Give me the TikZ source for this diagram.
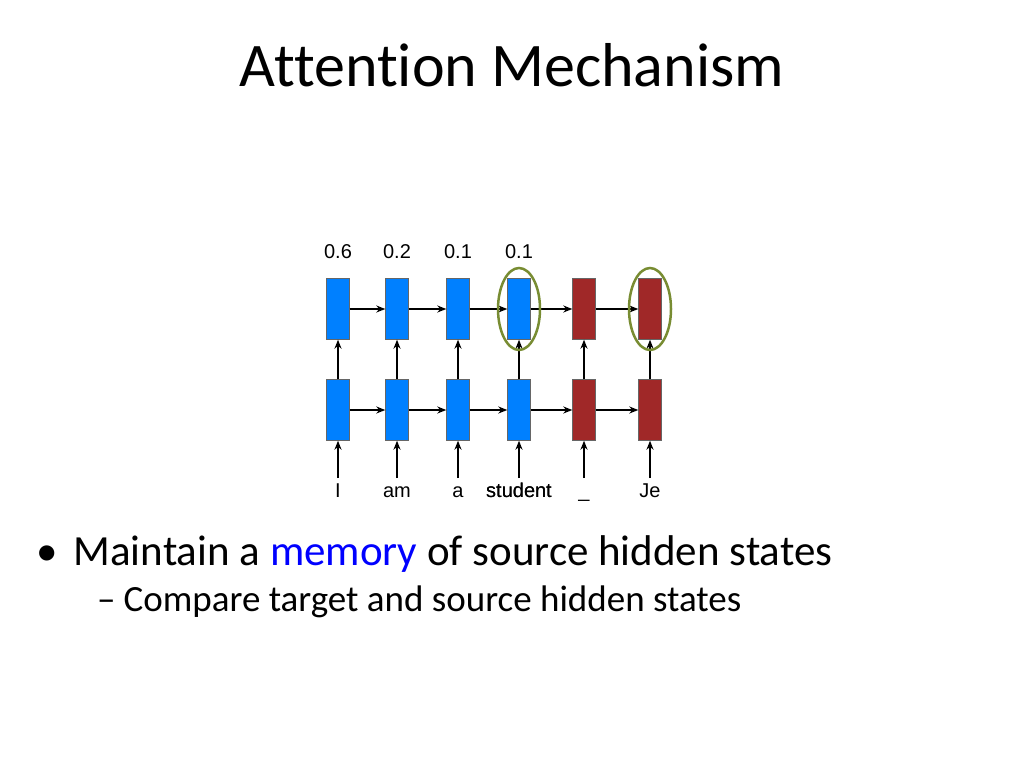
\documentclass[tikz,border=0pt]{standalone}
\usepackage{fontspec}
\setmainfont[Ligatures=NoCommon]{Carlito}
\newfontfamily\labelfont{Liberation Sans}
\usetikzlibrary{positioning,arrows.meta}

\tikzset{
  srcbox/.style={draw=black!60,fill={rgb,255:red,0;green,128;blue,255},minimum width=23pt,minimum height=61pt,inner sep=0pt},
  tgtbox/.style={srcbox,fill={rgb,255:red,160;green,40;blue,40}},
  link/.style={-{Stealth[length=9pt,width=7pt]},line width=1.5pt},
  word/.style={font=\labelfont\fontsize{20}{24}\selectfont,anchor=base},
  focus/.style={draw={rgb,255:red,120;green,140;blue,50},line width=2.5pt}
}

\begin{document}
\begin{tikzpicture}[x=1pt,y=-1pt]
  \useasboundingbox (0,0) rectangle (1024,768);

  \node[anchor=base,font=\fontsize{62}{70}\selectfont] (title) at (512,86) {Attention Mechanism};

  % the two rows of cells
  \foreach \x [count=\i] in {338,397,458,519,584,650} {
    \ifnum\i<5
      \node[srcbox] (top\i) at (\x,309) {};
      \node[srcbox] (bot\i) at (\x,410) {};
    \else
      \node[tgtbox] (top\i) at (\x,309) {};
      \node[tgtbox] (bot\i) at (\x,410) {};
    \fi
    \coordinate (in\i) at (\x,478);
    \draw[link] (in\i) -- (bot\i);
    \draw[link] (bot\i) -- (top\i);
  }
  \foreach \i [count=\j from 2] in {1,...,5} {
    \draw[link] (top\i) -- (top\j);
    \draw[link] (bot\i) -- (bot\j);
  }

  % weights and words
  \foreach \w [count=\i] in {0.6,0.2,0.1,0.1}
    \node[word] (wt\i) at ([yshift=20pt]top\i.north) {\w};
  \foreach \w [count=\i] in {I,am,a,student,\_,Je}
    \node[word] (w\i) at ([yshift=-57pt]bot\i.south) {\w};
  \node[word] at (w4.base) {student};

  \draw[focus] (top4) ellipse (21 and 41);
  \draw[focus] (top6) ellipse (21 and 41);

  \node[anchor=base west,font=\fontsize{43}{50}\selectfont,inner sep=0pt] (item) at (36,565)
    {\textbullet\hspace{16pt}Maintain a \textcolor{blue}{memory} of source hidden states};
  \node[anchor=base west,font=\fontsize{37}{44}\selectfont,inner sep=0pt] (sub) at (97,611)
    {--\hspace{8pt}Compare target and source hidden states};
\end{tikzpicture}
\end{document}
